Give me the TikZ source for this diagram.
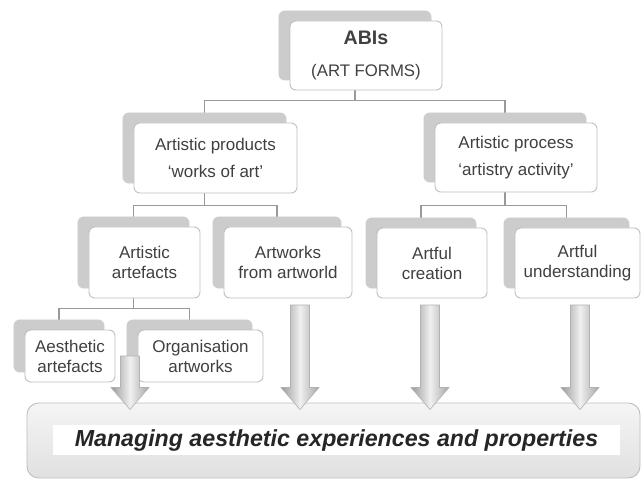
\documentclass[tikz,border=0pt]{standalone}
\usepackage{fontspec}
\setmainfont{Liberation Sans}
\usetikzlibrary{shadows,calc}
\pgfdeclarelayer{background}
\pgfsetlayers{background,main}
\newcommand{\flowarrow}[2]{%
  \path[flowarrow] let \p1=(#1), \p2=(#1 |- #2.north) in
    (\x1-0.285cm,\y1) -- (\x1-0.285cm,\y2+0.45cm) -- (\x1-0.57cm,\y2+0.45cm)
    -- (\x1,\y2-0.21cm) -- (\x1+0.57cm,\y2+0.45cm) -- (\x1+0.285cm,\y2+0.45cm)
    -- (\x1+0.285cm,\y1) -- cycle;}

\begin{document}
\begin{tikzpicture}[x=0.03cm,y=-0.03cm,
    every node/.style={text=black!75, font=\fontsize{14.5}{17}\selectfont},
    box/.style={draw=black!25, fill=white, rounded corners=5pt, line width=0.8pt,
      align=center, inner sep=2pt, minimum height=2.1cm,
      copy shadow={shadow xshift=-0.33cm, shadow yshift=0.3cm, fill=black!20, draw=black!20}},
    wide/.style={font=\fontsize{14.5}{23}\selectfont},
    small/.style={minimum height=1.56cm},
    tree/.style={draw=black!40, line width=1.5pt},
    base/.style={draw=black!25, rounded corners=10pt, line width=0.8pt,
      top color=black!4, bottom color=black!12, minimum width=18.39cm, minimum height=2.25cm},
    strip/.style={fill=white, inner sep=0pt, minimum width=17.01cm, minimum height=0.9cm,
      text=black!85, font=\fontsize{19.8}{24}\selectfont\bfseries\itshape},
    flowarrow/.style={left color=black!40, right color=black!35, middle color=black!6,
      draw=black!30, line width=0.5pt}]
  \useasboundingbox (0,0) rectangle (642,481);

  \node[base] (bottom) at (333.5,440.5) {};
  \node[strip] (manage) at (336.5,440) {Managing aesthetic experiences and properties};

  \node[box, minimum width=4.56cm, minimum height=2.07cm, font=\fontsize{14.3}{27}\selectfont] (abi) at (366,55.5)
    {{\fontsize{16.7}{27}\selectfont\bfseries ABIs}\\(ART FORMS)};
  \node[box, wide, minimum width=4.89cm] (prod) at (215.5,158) {Artistic products\\‘works of art’};
  \node[box, wide, minimum width=4.86cm, minimum height=2.07cm] (proc) at (516,157.5) {Artistic process\\‘artistry activity’};
  \node[box, minimum width=3.33cm, minimum height=2.13cm] (artef) at (144.5,262.5) {Artistic\\artefacts};
  \node[box, minimum width=3.84cm, minimum height=2.13cm] (artw) at (288,262.5) {Artworks\\from artworld};
  \node[box, minimum width=3.3cm] (creat) at (432,263) {Artful\\creation};
  \node[box, minimum width=3.75cm] (under) at (577.5,263) {Artful\\understanding};
  \node[box, small, minimum width=2.7cm] (aesth) at (70,356) {Aesthetic\\artefacts};
  \node[box, small, minimum width=3.75cm] (organ) at (200.5,356) {Organisation\\artworks};

  \begin{pgfonlayer}{background}
    \draw[tree] ([xshift=-0.33cm]abi.south) -- ++(0,10) -| ([xshift=-0.33cm]prod.north);
    \draw[tree] ([xshift=-0.33cm]abi.south) -- ++(0,10) -| ([xshift=-0.33cm]proc.north);
    \draw[tree] ([xshift=-0.33cm]prod.south) -- ++(0,12) -| ([xshift=-0.33cm]artef.north);
    \draw[tree] ([xshift=-0.33cm]prod.south) -- ++(0,12) -| ([xshift=-0.33cm]artw.north);
    \draw[tree] ([xshift=-0.33cm]proc.south) -- ++(0,13) -| ([xshift=-0.33cm]creat.north);
    \draw[tree] ([xshift=-0.33cm]proc.south) -- ++(0,13) -| ([xshift=-0.33cm]under.north);
    \draw[tree] ([xshift=-0.33cm]artef.south) -- ++(0,10) -| ([xshift=-0.33cm]aesth.north);
    \draw[tree] ([xshift=-0.33cm]artef.south) -- ++(0,10) -| ([xshift=-0.33cm]organ.north);
  \end{pgfonlayer}

  \coordinate (a1) at (130,356);
  \coordinate (a2) at (300,305);
  \coordinate (a3) at (430,305);
  \coordinate (a4) at (580,305);
  \flowarrow{a1}{bottom}
  \flowarrow{a2}{bottom}
  \flowarrow{a3}{bottom}
  \flowarrow{a4}{bottom}
\end{tikzpicture}
\end{document}
